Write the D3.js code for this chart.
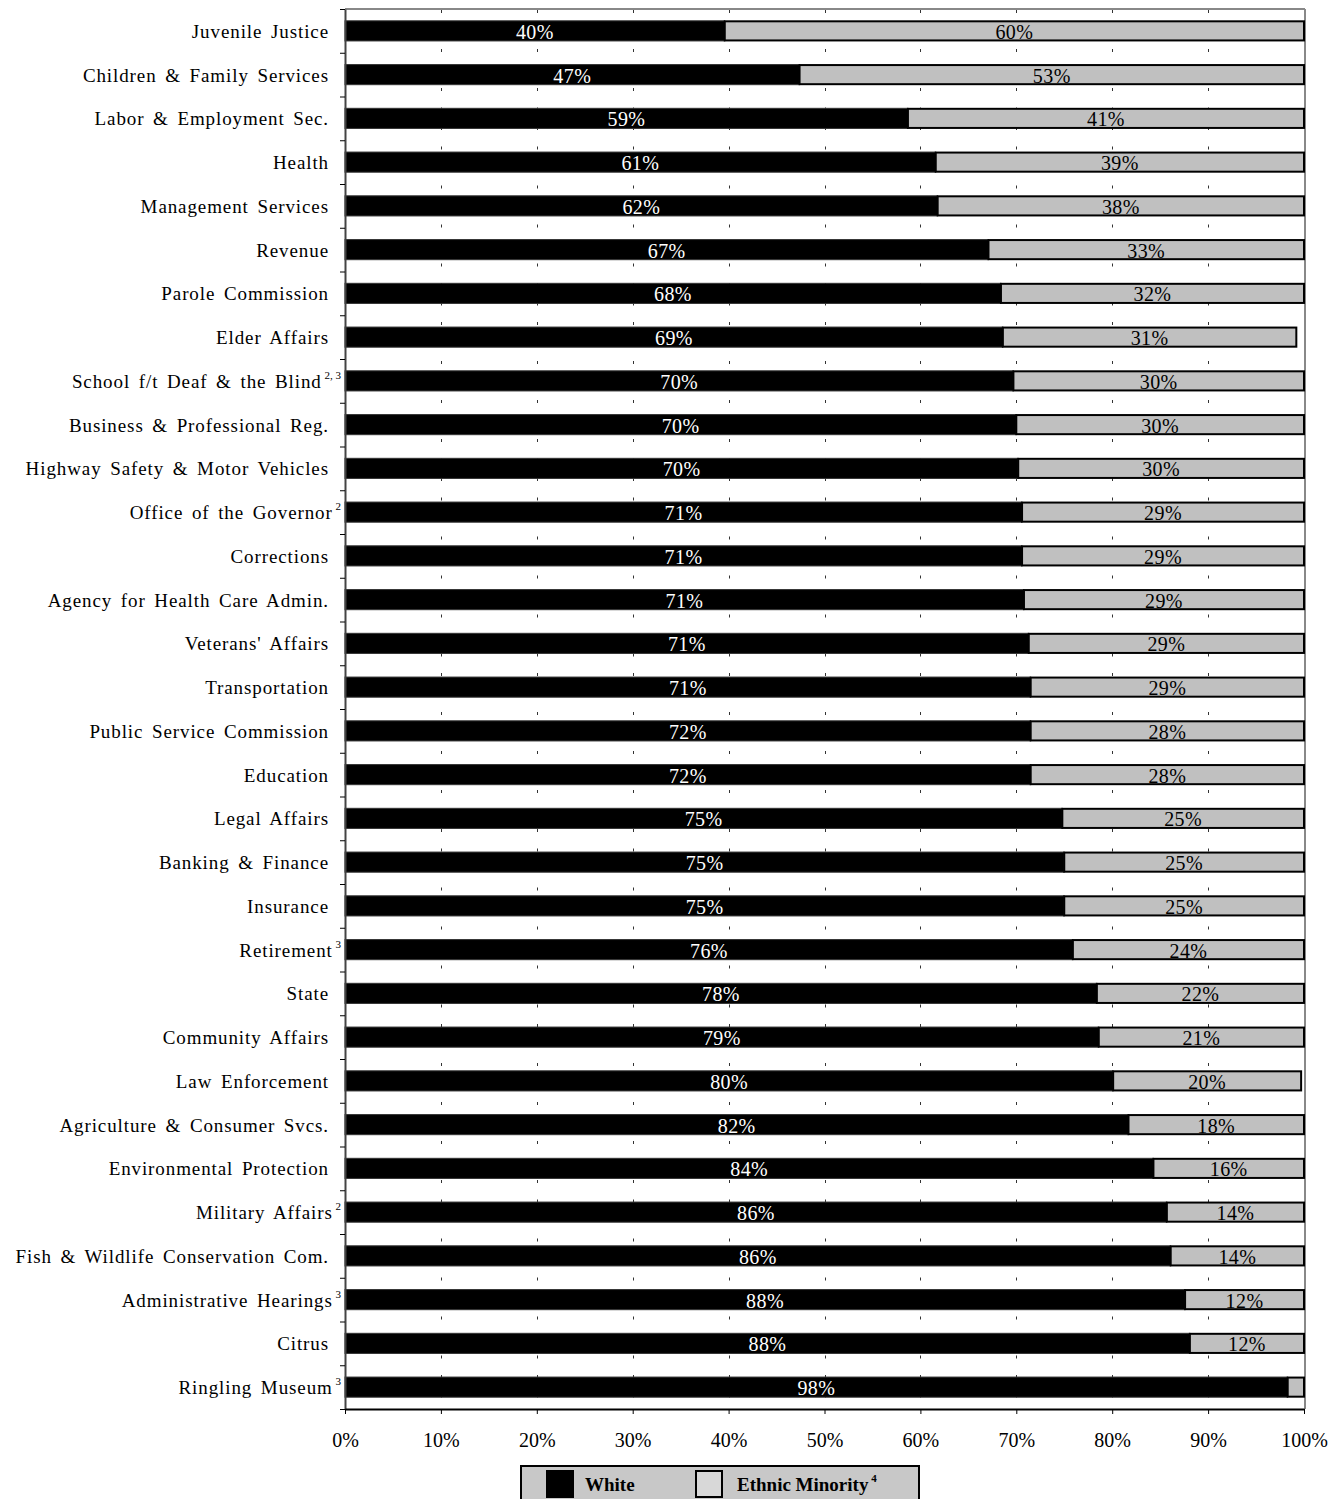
<!DOCTYPE html>
<html>
<head>
<meta charset="utf-8">
<script src="https://cdn.jsdelivr.net/npm/d3@7"></script>
<style>
  body { margin: 0; background: #fff; }
  svg { display: block; }
  text { font-family: "Liberation Serif", "DejaVu Serif", serif; }
</style>
</head>
<body>
<script>
// agencies, top to bottom
const categories = [
  "Juvenile Justice", "Children & Family Services", "Labor & Employment Sec.", "Health",
  "Management Services", "Revenue", "Parole Commission", "Elder Affairs",
  "School f/t Deaf & the Blind", "Business & Professional Reg.", "Highway Safety & Motor Vehicles",
  "Office of the Governor", "Corrections", "Agency for Health Care Admin.", "Veterans' Affairs",
  "Transportation", "Public Service Commission", "Education", "Legal Affairs", "Banking & Finance",
  "Insurance", "Retirement", "State", "Community Affairs", "Law Enforcement",
  "Agriculture & Consumer Svcs.", "Environmental Protection", "Military Affairs",
  "Fish & Wildlife Conservation Com.", "Administrative Hearings", "Citrus", "Ringling Museum"
];
// footnote marks next to some names
const notes = ["", "", "", "", "", "", "", "", "2, 3", "", "", "2", "", "", "", "", "", "", "", "", "",
  "3", "", "", "", "", "", "2", "", "3", "", "3"];

const whiteValues = [39.6, 47.4, 58.7, 61.6, 61.8, 67.1, 68.4, 68.6, 69.7, 70.0, 70.2, 70.6, 70.6, 70.8,
  71.3, 71.5, 71.5, 71.5, 74.8, 75.0, 75.0, 75.9, 78.4, 78.6, 80.1, 81.7, 84.3, 85.7, 86.1, 87.6, 88.1, 98.3];
const minorityValues = [60.4, 52.6, 41.3, 38.4, 38.2, 32.9, 31.6, 30.6, 30.3, 30.0, 29.8, 29.4, 29.4, 29.2,
  28.7, 28.5, 28.5, 28.5, 25.2, 25.0, 25.0, 24.1, 21.6, 21.4, 19.6, 18.3, 15.7, 14.3, 13.9, 12.4, 11.9, 1.7];

// printed labels (rounded as in the report)
const whiteLabels = [40, 47, 59, 61, 62, 67, 68, 69, 70, 70, 70, 71, 71, 71, 71, 71, 72, 72, 75, 75, 75, 76,
  78, 79, 80, 82, 84, 86, 86, 88, 88, 98];
const minorityLabels = [60, 53, 41, 39, 38, 33, 32, 31, 30, 30, 30, 29, 29, 29, 29, 29, 28, 28, 25, 25, 25, 24,
  22, 21, 20, 18, 16, 14, 14, 12, 12, null];

const xTicks = [0, 10, 20, 30, 40, 50, 60, 70, 80, 90, 100];
const legendItems = ["White", "Ethnic Minority"];

const w = 1339, h = 1499;
const plotLeft = 345, plotRight = 1304, plotTop = 9, plotBottom = 1409;

const rows = categories.map((c, i) => ({
  name: c, note: notes[i],
  white: whiteValues[i], minority: minorityValues[i],
  wl: whiteLabels[i], ml: minorityLabels[i]
}));

const x = d3.scaleLinear().domain([0, 100]).range([plotLeft, plotRight]);
const y = d3.scaleBand().domain(categories).range([plotTop, plotBottom]).paddingInner(0.54).paddingOuter(0.27);
const rowScale = d3.scaleLinear().domain([0, categories.length]).range([plotTop, plotBottom]);

const svg = d3.select("body").append("svg").attr("width", w).attr("height", h);

// dashed gridlines behind bars
svg.append("g").selectAll("line")
  .data(xTicks.filter(d => d > 0 && d < 100))
  .enter().append("line")
  .attr("x1", d => Math.round(x(d)) + 0.5).attr("x2", d => Math.round(x(d)) + 0.5)
  .attr("y1", plotTop + 1).attr("y2", plotBottom)
  .attr("stroke", "#333").attr("stroke-width", 1)
  .attr("stroke-dasharray", "3,16.5");

// frame (top and right)
svg.append("line").attr("x1", plotLeft).attr("x2", plotRight + 1).attr("y1", plotTop).attr("y2", plotTop)
  .attr("stroke", "#888").attr("stroke-width", 2);
svg.append("line").attr("x1", plotRight + 1).attr("x2", plotRight + 1).attr("y1", plotTop).attr("y2", plotBottom)
  .attr("stroke", "#888").attr("stroke-width", 2);

// bars
const bars = svg.append("g");
bars.selectAll("rect.white").data(rows).enter().append("rect")
  .attr("class", "white")
  .attr("x", x(0))
  .attr("y", d => y(d.name))
  .attr("width", d => x(d.white) - x(0))
  .attr("height", y.bandwidth())
  .attr("fill", "#000").attr("stroke", "#333").attr("stroke-width", 1);

bars.selectAll("rect.minority").data(rows).enter().append("rect")
  .attr("class", "minority")
  .attr("x", d => x(d.white))
  .attr("y", d => y(d.name) + 0.5)
  .attr("width", d => x(d.white + d.minority) - x(d.white))
  .attr("height", y.bandwidth() - 1)
  .attr("fill", "#c0c0c0").attr("stroke", "#000").attr("stroke-width", 2);

// value labels
const labels = svg.append("g").attr("font-size", 20).attr("letter-spacing", 0.4);
labels.selectAll("text.wl").data(rows).enter().append("text")
  .attr("x", d => (x(0) + x(d.white)) / 2)
  .attr("y", d => y(d.name) + y.bandwidth() / 2 + 8)
  .attr("text-anchor", "middle").attr("fill", "#fff")
  .text(d => d.wl + "%");
labels.selectAll("text.ml").data(rows.filter(d => d.ml != null)).enter().append("text")
  .attr("x", d => (x(d.white) + x(d.white + d.minority)) / 2)
  .attr("y", d => y(d.name) + y.bandwidth() / 2 + 8)
  .attr("text-anchor", "middle").attr("fill", "#000")
  .text(d => d.ml + "%");

// left axis, ticks between categories
svg.append("g")
  .attr("transform", "translate(" + plotLeft + ",0)")
  .call(d3.axisLeft(rowScale).tickValues(d3.range(0, categories.length + 1)).tickFormat("").tickSize(5).tickSizeOuter(0))
  .call(g => g.select(".domain").attr("stroke", "#444").attr("stroke-width", 2))
  .call(g => g.selectAll(".tick line").attr("stroke", "#000"));

// category names
const names = svg.append("g").attr("font-size", 19).attr("letter-spacing", 0.9).attr("word-spacing", 3);
names.selectAll("text").data(rows).enter().append("text")
  .attr("x", d => d.note ? 341 : 329)
  .attr("y", d => y(d.name) + y.bandwidth() / 2 + 7)
  .attr("text-anchor", "end")
  .each(function(d) {
    const t = d3.select(this);
    t.append("tspan").text(d.name);
    if (d.note) {
      t.append("tspan").attr("font-size", 11).attr("dy", -9).attr("letter-spacing", 0).attr("word-spacing", 0).text(" " + d.note);
    }
  });

// bottom axis
svg.append("g")
  .attr("transform", "translate(0," + plotBottom + ")")
  .call(d3.axisBottom(x).tickValues(xTicks).tickFormat(d => d + "%").tickSize(5).tickSizeOuter(0).tickPadding(19))
  .call(g => g.select(".domain").attr("stroke", "#000").attr("stroke-width", 2))
  .call(g => g.selectAll(".tick line").attr("stroke", "#000"))
  .call(g => g.selectAll(".tick text").attr("font-family", "Liberation Serif").attr("font-size", 20).attr("fill", "#000"));

// legend
const lg = svg.append("g");
lg.append("rect").attr("x", 521).attr("y", 1466).attr("width", 398).attr("height", 44)
  .attr("fill", "#c8c8c8").attr("stroke", "#000").attr("stroke-width", 2);
const lx = [547, 696];
const tx = [585, 737];
legendItems.forEach((name, i) => {
  lg.append("rect").attr("x", lx[i]).attr("y", 1471).attr("width", 26).attr("height", 26)
    .attr("fill", i === 0 ? "#000" : "#d8d8d8").attr("stroke", "#000").attr("stroke-width", 2);
  const t = lg.append("text").attr("x", tx[i]).attr("y", 1491)
    .attr("font-size", 19).attr("font-weight", "bold").text(name);
  if (i === 1) t.append("tspan").attr("font-size", 11).attr("dy", -9).text(" 4");
});
</script>
</body>
</html>
